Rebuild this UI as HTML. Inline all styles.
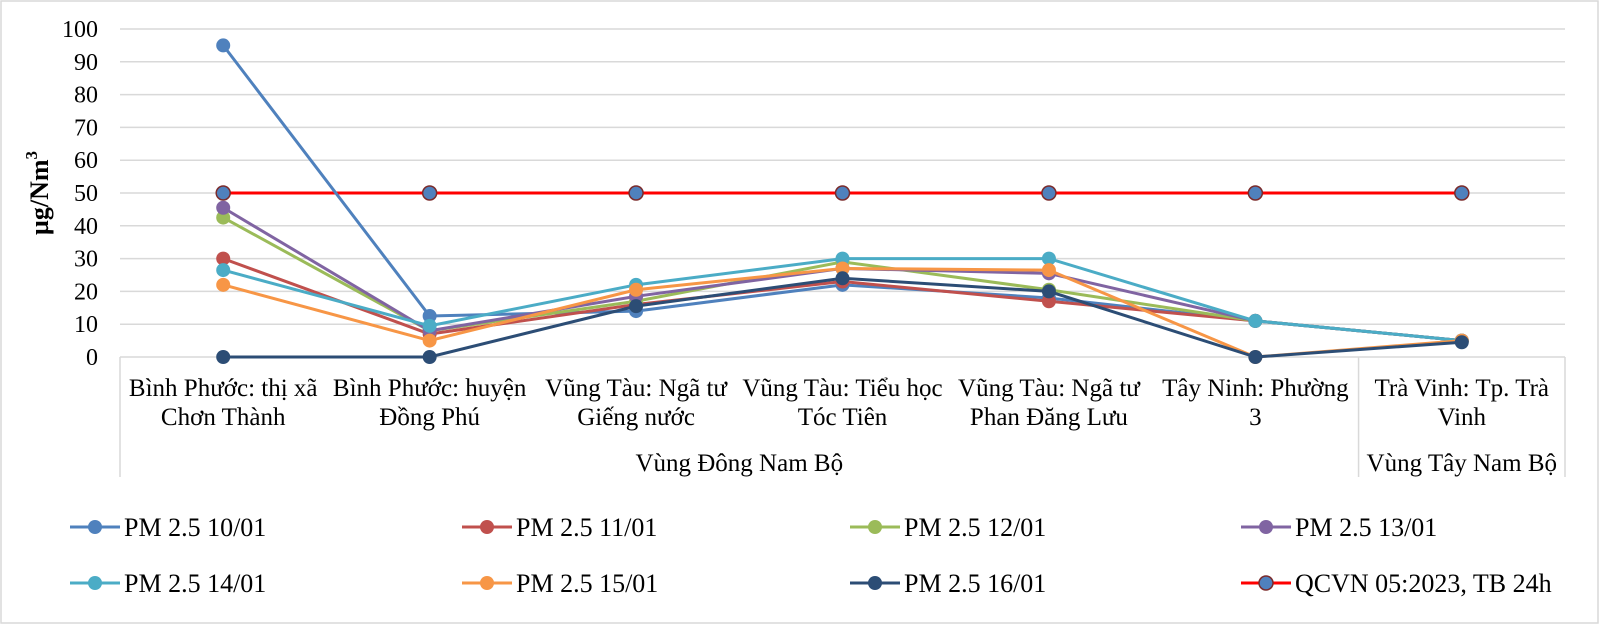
<!DOCTYPE html>
<html><head><meta charset="utf-8">
<style>
html,body{margin:0;padding:0;background:#fff;}
svg text{font-family:"Liberation Serif","Noto Serif CJK SC",serif;fill:#000;}
</style></head>
<body>
<svg id="chart" width="1600" height="625" viewBox="0 0 1600 625" xmlns="http://www.w3.org/2000/svg">
<rect x="1" y="1" width="1597" height="622" fill="#fff" stroke="#d9d9d9" stroke-width="1.5"/>
<g id="grid"></g>
<g id="axes"></g>
<g id="series"></g>
<g id="legend"></g>
</svg>
<script>
const categories1 = ["Bình Phước: thị xã","Bình Phước: huyện","Vũng Tàu: Ngã tư","Vũng Tàu: Tiểu học","Vũng Tàu: Ngã tư","Tây Ninh: Phường","Trà Vinh: Tp. Trà"];
const categories2 = ["Chơn Thành","Đồng Phú","Giếng nước","Tóc Tiên","Phan Đăng Lưu","3","Vinh"];
const groups = [{name:"Vùng Đông Nam Bộ", from:0, to:6},{name:"Vùng Tây Nam Bộ", from:6, to:7}];
const yTicks = [0,10,20,30,40,50,60,70,80,90,100];
const seriesNames = ["PM 2.5 10/01","PM 2.5 11/01","PM 2.5 12/01","PM 2.5 13/01","PM 2.5 14/01","PM 2.5 15/01","PM 2.5 16/01","QCVN 05:2023, TB 24h"];
const s1001 = [95,12.5,14,22,18,11,5];
const s1101 = [30,7,16,23,17,11,5];
const s1201 = [42.5,8,17,29,20.5,11,5];
const s1301 = [45.5,8,18.5,27,25.5,11,5];
const s1401 = [26.5,9.5,22,30,30,11,5];
const s1501 = [22,5,20.5,27,26.5,0,5];
const s1601 = [0,0,15.5,24,20,0,4.5];
const qcvn = [50,50,50,50,50,50,50];
const seriesValues = [s1001,s1101,s1201,s1301,s1401,s1501,s1601,qcvn];
const colors = ["#4F81BD","#C0504D","#9BBB59","#8064A2","#4BACC6","#F79646","#2C4D75","#FF0000"];

const NS="http://www.w3.org/2000/svg";
const L=120,R=1565,T=29,B=357,YMAX=100;
const step=(R-L)/categories1.length;
const x=i=>L+step*(i+0.5);
const y=v=>B-(B-T)*v/YMAX;
function mk(tag,attrs,parent){const e=document.createElementNS(NS,tag);for(const k in attrs)e.setAttribute(k,attrs[k]);parent.appendChild(e);return e;}
const grid=document.getElementById('grid'),axes=document.getElementById('axes'),ser=document.getElementById('series'),leg=document.getElementById('legend');

yTicks.forEach(t=>{
  if(t>0){const g=mk('line',{x1:L,x2:R,y1:y(t),y2:y(t),stroke:'#d9d9d9','stroke-width':1.5},grid);
  
  }
  const tx=mk('text',{x:98,y:y(t)+8,'text-anchor':'end','font-size':24},axes);
  tx.textContent=t;
  
  
});
const xa=mk('line',{x1:L,x2:R,y1:B,y2:B,stroke:'#d9d9d9','stroke-width':1.5},axes);


[L,L+step*6,R].forEach((vx,i)=>{
  const v=mk('line',{x1:vx,x2:vx,y1:B,y2:477,stroke:'#d9d9d9','stroke-width':1.5},axes);
  
  
});
categories1.forEach((c,i)=>{
  const t=mk('text',{x:x(i),y:396,'text-anchor':'middle','font-size':25},axes);
  t.textContent=c;
  
  
  const t2=mk('text',{x:x(i),y:425,'text-anchor':'middle','font-size':25},axes);
  t2.textContent=categories2[i];
  
  
});
groups.forEach(g=>{
  const t=mk('text',{x:L+step*(g.from+g.to)/2,y:471,'text-anchor':'middle','font-size':25},axes);
  t.textContent=g.name;
  
  
});
const yt=mk('text',{x:0,y:0,'text-anchor':'middle','font-size':26,'font-weight':'bold',transform:'translate(48,'+((T+B)/2)+') rotate(-90)'},axes);
yt.innerHTML='µg/Nm<tspan dy="-11" font-size="17">3</tspan>';



function drawSeries(si,parent,xs,ys,r){
  const isQ=si===7;
  const p=mk('polyline',{points:xs.map((xx,i)=>xx+','+ys[i]).join(' '),fill:'none',stroke:colors[si],'stroke-width':3},parent);
  
  
  xs.forEach((xx,i)=>{
    const c=mk('circle',{cx:xx,cy:ys[i],r:r,fill:isQ?'#4F81BD':colors[si],stroke:isQ?'#7B2B2B':'none','stroke-width':isQ?1.5:0},parent);
    
    
  });
}
[7,0,1,2,3,4,5,6].forEach(si=>{
  const vals=seriesValues[si];
  drawSeries(si,ser,vals.map((v,i)=>x(i)),vals.map(v=>y(v)),7);
});
const legX=[70,462,850,1241];
const legY=[527,583];
seriesNames.forEach((n,si)=>{
  const lx=legX[si%4],ly=legY[Math.floor(si/4)];
  const g=mk('g',{},leg);
  
  
  const isQ=si===7;
  mk('line',{x1:lx,x2:lx+50,y1:ly,y2:ly,stroke:colors[si],'stroke-width':3},g);
  mk('circle',{cx:lx+25,cy:ly,r:7,fill:isQ?'#4F81BD':colors[si],stroke:isQ?'#7B2B2B':'none','stroke-width':isQ?1.5:0},g);
  const t=mk('text',{x:lx+54,y:ly+9,'font-size':26},g);
  t.textContent=n;
});
</script>
</body></html>
